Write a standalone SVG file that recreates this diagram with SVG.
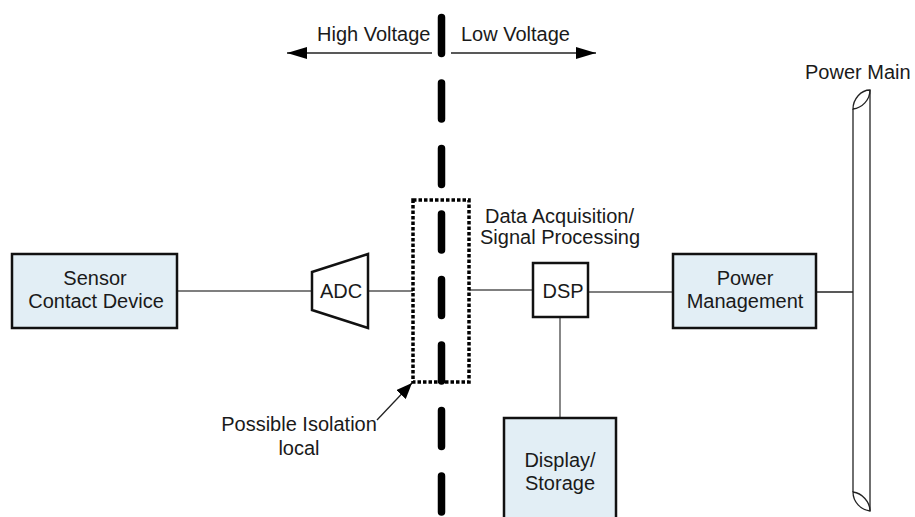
<svg xmlns="http://www.w3.org/2000/svg" width="915" height="517" viewBox="0 0 915 517">
<defs>
<marker id="ah" viewBox="0 0 20 12" refX="20" refY="6" markerWidth="20" markerHeight="12" markerUnits="userSpaceOnUse" orient="auto">
<path d="M0,0 L20,6 L0,12 Z" fill="#000"/>
</marker>
<marker id="ah2" viewBox="0 0 16 13" refX="16" refY="6.5" markerWidth="16" markerHeight="13" markerUnits="userSpaceOnUse" orient="auto">
<path d="M0,0 L16,6.5 L0,13 Z" fill="#000"/>
</marker>
</defs>
<style>
text{font-family:"Liberation Sans",Arial,sans-serif;font-size:20px;fill:#1a1a1a}
.box{fill:#e2eef5;stroke:#111;stroke-width:2.5}
.blk{fill:#fff;stroke:#111;stroke-width:2.5}
.conn{stroke:#555;stroke-width:1.4;fill:none}
.thin{stroke:#222;stroke-width:1.3;fill:none}
</style>
<rect width="915" height="517" fill="#fff"/>
<g id="divider">
<line x1="441.5" y1="17.5" x2="441.5" y2="530" stroke="#000" stroke-width="7.5" stroke-linecap="round" stroke-dasharray="36,29.5"/>
</g>
<g id="voltage-labels">
<text x="317" y="41">High Voltage</text>
<text x="461" y="41">Low Voltage</text>
<line x1="432" y1="53" x2="287" y2="53" class="thin" marker-end="url(#ah)"/>
<line x1="451" y1="53" x2="596" y2="53" class="thin" marker-end="url(#ah)"/>
</g>
<g id="connectors">
<line x1="177" y1="291" x2="312" y2="291" class="conn"/>
<line x1="368" y1="291" x2="413" y2="291" class="conn"/>
<line x1="469" y1="290" x2="533" y2="290" class="conn"/>
<line x1="588" y1="292" x2="673" y2="292" class="conn"/>
<line x1="816" y1="292" x2="853" y2="292" class="thin"/>
<line x1="560" y1="317" x2="560" y2="418" class="conn"/>
<line x1="377" y1="420" x2="412" y2="383" class="thin" marker-end="url(#ah2)"/>
</g>
<g id="sensor">
<rect x="12" y="254" width="165" height="74" class="box"/>
<text x="95" y="285" text-anchor="middle">Sensor</text>
<text x="96" y="308" text-anchor="middle">Contact Device</text>
</g>
<g id="adc">
<path d="M312,272 L368,254 L368,328 L312,310 Z" class="blk"/>
<text x="341" y="298" text-anchor="middle">ADC</text>
</g>
<g id="isolation">
<rect x="413" y="200" width="56" height="182" fill="none" stroke="#000" stroke-width="3.5" stroke-dasharray="3.5,2"/>
</g>
<g id="isolation-label">
<text x="299" y="431" text-anchor="middle">Possible Isolation</text>
<text x="299" y="455" text-anchor="middle">local</text>
</g>
<g id="daq-label">
<text x="485" y="223">Data Acquisition/</text>
<text x="480" y="244">Signal Processing</text>
</g>
<g id="dsp">
<rect x="533" y="263" width="55" height="54" class="blk"/>
<text x="563" y="298" text-anchor="middle">DSP</text>
</g>
<g id="power-management">
<rect x="673" y="254" width="143" height="74" class="box"/>
<text x="745" y="285" text-anchor="middle">Power</text>
<text x="745" y="308" text-anchor="middle">Management</text>
</g>
<g id="display">
<rect x="504" y="418" width="112" height="110" class="box"/>
<text x="560" y="467" text-anchor="middle">Display/</text>
<text x="560" y="490" text-anchor="middle">Storage</text>
</g>
<g id="power-main">
<text x="805" y="79">Power Main</text>
<line x1="853" y1="109" x2="853" y2="492" class="thin"/>
<line x1="870" y1="90" x2="870" y2="511" class="thin"/>
<path d="M853,109 C853,99 861,90 870,90 C870,100 862,108 853,109 Z" class="thin"/>
<path d="M853,492 C862,493 870,502 870,511 C861,510 853,502 853,492 Z" class="thin"/>
</g>
</svg>
